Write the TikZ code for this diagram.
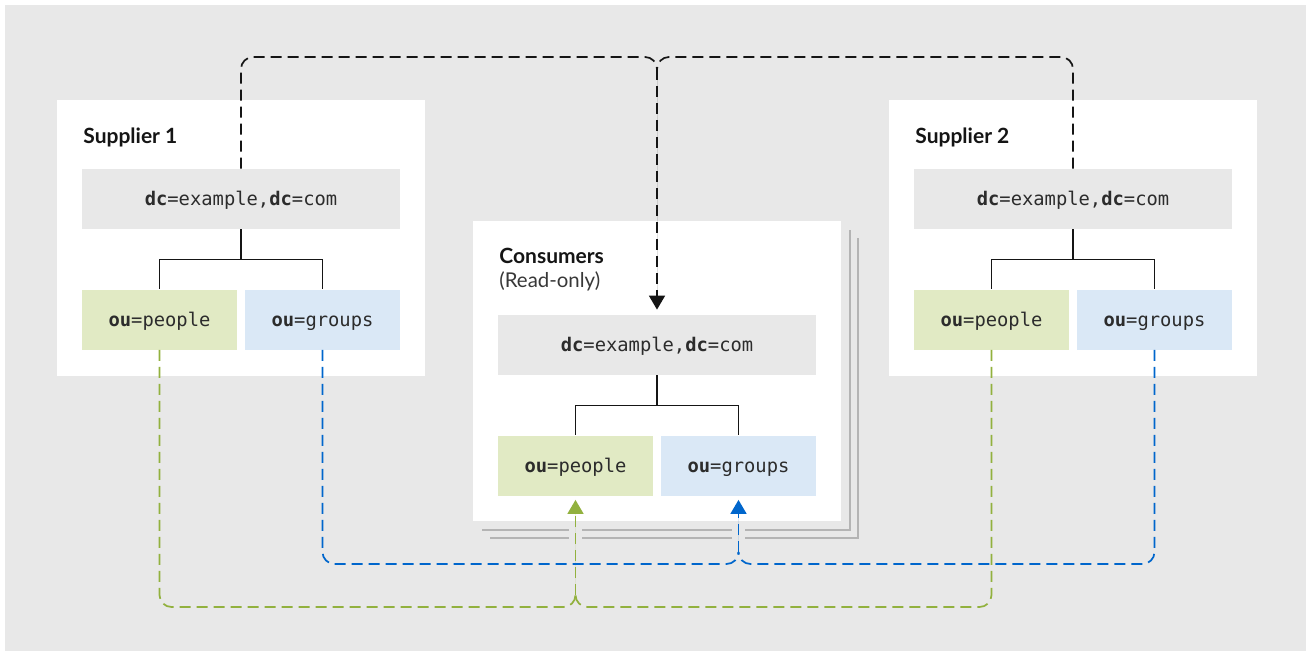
\documentclass[tikz,border=0pt]{standalone}
\usepackage{fontspec}
\setmainfont{Lato}
\setmonofont{DejaVu Sans Mono}
\usetikzlibrary{arrows.meta}

\definecolor{bggray}{HTML}{E8E8E8}
\definecolor{peoplefill}{HTML}{E1EAC4}
\definecolor{groupsfill}{HTML}{DAE8F6}
\definecolor{peopleline}{HTML}{92B13E}
\definecolor{groupsline}{HTML}{0066CC}
\definecolor{stackgray}{HTML}{B4B4B4}
\definecolor{inkblack}{HTML}{151515}

\tikzset{
  panel/.style={fill=white, inner sep=0pt, minimum width=184pt, minimum height=138pt},
  title/.style={anchor=base west, inner sep=0pt, text=inkblack, font=\bfseries\fontsize{10.5}{12}\selectfont},
  subtitle/.style={anchor=base west, inner sep=0pt, text=inkblack!85, font=\fontsize{10.2}{12}\selectfont},
  entry/.style={inner sep=0pt, text=inkblack!90, font=\ttfamily\fontsize{9.4}{11}\selectfont,
    minimum height=30pt, text height=6.8pt, text depth=0pt},
  dcbox/.style={entry, fill=bggray, minimum width=159pt},
  peoplebox/.style={entry, fill=peoplefill, minimum width=77.5pt},
  groupsbox/.style={entry, fill=groupsfill, minimum width=77.5pt},
  tree/.style={draw=inkblack, line width=0.85pt},
  link/.style={line width=0.85pt, dash pattern=on 5.5pt off 3pt, rounded corners=6pt},
  tip/.style={-{Triangle[width=8pt,length=7pt]}},
  stack/.style={draw=stackgray, line width=0.9pt}
}

\begin{document}
\begin{tikzpicture}[x=0.5pt, y=-0.5pt]
  \useasboundingbox (0,0) rectangle (1311,655);
  \fill[bggray] (5,5) rectangle (1306,651);

  % copies behind the consumer
  \draw[stack] (482,530) -- (850,530) -- (850,230);
  \draw[stack] (490,538) -- (858,538) -- (858,238);
  \fill[bggray] (569,525) rectangle (582,543);
  \fill[bggray] (732,525) rectangle (745,543);

  % supplier 1
  \node[panel] (sup1) at (241,238) {};
  \node[title] (sup1title) at (83,143) {Supplier 1};
  \node[dcbox] (dc1) at (241,199) {\textbf{dc}=example,\textbf{dc}=com};
  \node[peoplebox] (people1) at (159.5,319.5) {\textbf{ou}=people};
  \node[groupsbox] (groups1) at (322.5,319.5) {\textbf{ou}=groups};
  \draw[tree] (dc1.south) -- ++(0,30) -| (people1.north);
  \draw[tree] (dc1.south) -- ++(0,30) -| (groups1.north);

  % supplier 2
  \node[panel] (sup2) at (1073,238) {};
  \node[title] (sup2title) at (915,143) {Supplier 2};
  \node[dcbox] (dc2) at (1073,199) {\textbf{dc}=example,\textbf{dc}=com};
  \node[peoplebox] (people2) at (991.5,319.5) {\textbf{ou}=people};
  \node[groupsbox] (groups2) at (1154.5,319.5) {\textbf{ou}=groups};
  \draw[tree] (dc2.south) -- ++(0,30) -| (people2.north);
  \draw[tree] (dc2.south) -- ++(0,30) -| (groups2.north);

  % consumers
  \node[panel, minimum height=150pt] (cons) at (657,371) {};
  \node[title] (constitle) at (499,263) {Consumers};
  \node[subtitle] (consnote) at (499,287) {(Read-only)};
  \node[dcbox] (dcC) at (657,345) {\textbf{dc}=example,\textbf{dc}=com};
  \node[peoplebox] (peopleC) at (575.5,465.5) {\textbf{ou}=people};
  \node[groupsbox] (groupsC) at (738.5,465.5) {\textbf{ou}=groups};
  \draw[tree] (dcC.south) -- ++(0,30) -| (peopleC.north);
  \draw[tree] (dcC.south) -- ++(0,30) -| (groupsC.north);

  % replication links
  \coordinate (blacktop) at (657,57);
  \coordinate (blackjoin) at (657,69);
  \draw[link, draw=inkblack] (dc1.north) |- (blacktop) -- (blackjoin);
  \draw[link, draw=inkblack] (dc2.north) |- (blacktop) -- (blackjoin);
  \draw[link, tip, draw=inkblack, fill=inkblack, shorten >=2.5pt] (blackjoin) -- (dcC.north);

  \coordinate (greenlow) at (575.5,607);
  \coordinate (greenjoin) at (575.5,595);
  \draw[link, draw=peopleline] (people1.south) |- (greenlow) -- (greenjoin);
  \draw[link, draw=peopleline] (people2.south) |- (greenlow) -- (greenjoin);
  \draw[link, tip, draw=peopleline, fill=peopleline, shorten >=2pt] (greenjoin) -- (peopleC.south);

  \coordinate (bluelow) at (738.5,564);
  \coordinate (bluejoin) at (738.5,552);
  \draw[link, draw=groupsline] (groups1.south) |- (bluelow) -- (bluejoin);
  \draw[link, draw=groupsline] (groups2.south) |- (bluelow) -- (bluejoin);
  \draw[link, tip, draw=groupsline, fill=groupsline, shorten >=2pt] (bluejoin) -- (groupsC.south);
\end{tikzpicture}
\end{document}
